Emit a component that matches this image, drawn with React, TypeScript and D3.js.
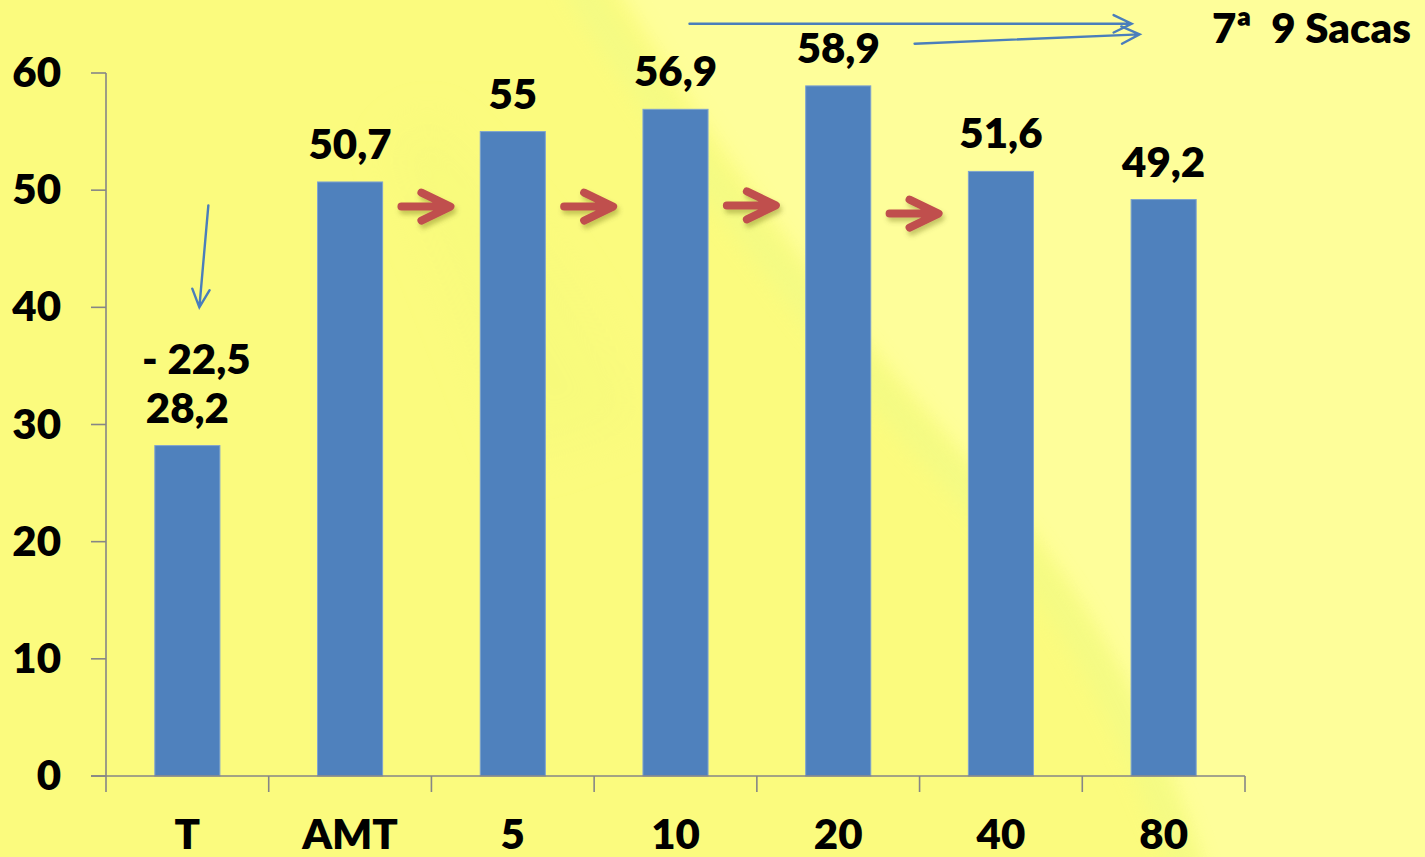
import React from "react";
import * as d3 from "d3";

// Yield per treatment
const categories = ["T", "AMT", "5", "10", "20", "40", "80"];
const values = [28.2, 50.7, 55, 56.9, 58.9, 51.6, 49.2];
const valueLabels = ["28,2", "50,7", "55", "56,9", "58,9", "51,6", "49,2"];
const yTicks = [0, 10, 20, 30, 40, 50, 60];

// Extra note above the control bar
const lossLabel = "- 22,5";
const noteText = "7ª  9 Sacas";

// Red trend arrows sit on the boundary after category index, at a value level
const trendArrowAfter = [1, 2, 3, 4];
const trendArrowLevel = [48.6, 48.6, 48.7, 48.0];

const W = 1425;
const H = 857;
const FONT = "Lato, 'Open Sans', sans-serif";
const WEIGHT = 800;

const x = d3.scaleBand<string>().domain(categories).range([106, 1245]).padding(0);
const y = d3.scaleLinear().domain([0, 60]).range([776, 73]);
const barW = x.bandwidth() * 0.4;
const center = (i: number) => (x(categories[0]) as number) + x.bandwidth() * (i + 0.5);
const boundary = (i: number) => (x(categories[0]) as number) + x.bandwidth() * (i + 1);

function openArrow(x1: number, y1: number, x2: number, y2: number, len: number, ang: number) {
  const a = Math.atan2(y2 - y1, x2 - x1);
  const p1 = [x2 - len * Math.cos(a - ang), y2 - len * Math.sin(a - ang)];
  const p2 = [x2 - len * Math.cos(a + ang), y2 - len * Math.sin(a + ang)];
  const p = d3.path();
  p.moveTo(x1, y1);
  p.lineTo(x2, y2);
  p.moveTo(p1[0], p1[1]);
  p.lineTo(x2, y2);
  p.lineTo(p2[0], p2[1]);
  return p.toString();
}

function fatArrow(cx: number, cy: number) {
  const p = d3.path();
  p.moveTo(cx - 25, cy);
  p.lineTo(cx + 20, cy);
  p.moveTo(cx - 5, cy - 14);
  p.lineTo(cx + 24, cy);
  p.lineTo(cx - 5, cy + 14);
  return p.toString();
}

export default function App() {
  React.useEffect(() => {
    document.body.style.margin = "0";
  }, []);

  // Blue callout arrows, in band/value units
  const topArrow1 = openArrow(center(3) + 14, y(64.2), center(6) - 32, y(64.2), 20, 0.45);
  const topArrow2 = openArrow(boundary(4) - 5, y(62.5), center(6) - 24, y(63.3), 20, 0.45);
  const downArrow = openArrow(center(0) + 21, y(48.7), center(0) + 12, y(40.0), 20, 0.45);

  return (
    <svg width={W} height={H} style={{ display: "block" }} fontFamily={FONT}>
      <defs>
        <filter id="soft" x="-20%" y="-20%" width="140%" height="140%">
          <feGaussianBlur stdDeviation="22" />
        </filter>
        <filter id="soft2" x="-20%" y="-20%" width="140%" height="140%">
          <feGaussianBlur stdDeviation="10" />
        </filter>
        <filter id="shadow" x="-30%" y="-50%" width="160%" height="200%">
          <feDropShadow dx="2" dy="4" stdDeviation="2.5" floodColor="#5a5a00" floodOpacity="0.35" />
        </filter>
      </defs>

      {/* background */}
      <rect x={0} y={0} width={W} height={H} fill="#fbfb7e" />
      <path
        d="M600,-40 C730,180 870,360 1020,520 C1110,640 1170,760 1210,900 L1500,900 L1500,-40 Z"
        fill="#fefe9a"
        filter="url(#soft2)"
      />
      <path
        d="M430,120 C510,200 590,300 640,420 L520,460 C470,330 430,220 390,150 Z"
        fill="#f4fa7a"
        opacity={0.5}
        filter="url(#soft)"
      />
      <path
        d="M575,-20 C710,190 855,370 1000,525 C1095,640 1150,760 1190,880"
        fill="none"
        stroke="#f1fb86"
        strokeWidth={30}
        opacity={0.7}
        filter="url(#soft2)"
      />

      {/* bars */}
      {categories.map((c, i) => (
        <rect
          key={c}
          x={center(i) - barW / 2}
          y={y(values[i])}
          width={barW}
          height={y(0) - y(values[i])}
          fill="#4f81bd"
          stroke="#7fa3cf"
          strokeWidth={1}
        />
      ))}

      {/* axes */}
      <g stroke="#868686" strokeWidth={1.6} fill="none">
        <line x1={106} y1={y(0)} x2={106} y2={y(60)} />
        {yTicks.map((t) => (
          <line key={t} x1={91} y1={y(t)} x2={106} y2={y(t)} />
        ))}
        <line x1={91} y1={y(0)} x2={1245} y2={y(0)} />
        {d3.range(categories.length + 1).map((i) => {
          const bx = (x(categories[0]) as number) + x.bandwidth() * i;
          return <line key={i} x1={bx} y1={y(0)} x2={bx} y2={y(0) + 16} />;
        })}
      </g>

      {/* y tick labels */}
      <g fontSize={42} fontWeight={WEIGHT} fill="#000" textAnchor="end">
        {yTicks.map((t) => (
          <text key={t} x={61} y={y(t) + 14}>
            {t}
          </text>
        ))}
      </g>

      {/* category labels */}
      <g fontSize={42} fontWeight={WEIGHT} fill="#000" textAnchor="middle">
        {categories.map((c, i) => (
          <text key={c} x={center(i)} y={849}>
            {c}
          </text>
        ))}
      </g>

      {/* value labels */}
      <g fontSize={42} fontWeight={WEIGHT} fill="#000" textAnchor="middle">
        {categories.map((c, i) => (
          <text key={c} x={center(i)} y={y(values[i]) - 23}>
            {valueLabels[i]}
          </text>
        ))}
        <text x={center(0) + 9} y={y(values[0]) - 72}>
          {lossLabel}
        </text>
      </g>

      {/* red trend arrows */}
      <g stroke="#c0504d" strokeWidth={8} fill="none" strokeLinecap="round" strokeLinejoin="round" filter="url(#shadow)">
        {trendArrowAfter.map((b, k) => (
          <path key={b} d={fatArrow(boundary(b) - 5, y(trendArrowLevel[k]))} />
        ))}
      </g>

      {/* blue callouts */}
      <g stroke="#4a7ebb" strokeWidth={2.4} fill="none" strokeLinecap="round">
        <path d={topArrow1} />
        <path d={topArrow2} />
        <path d={downArrow} />
      </g>

      <text x={1212} y={43} fontSize={42} fontWeight={WEIGHT} fill="#000" style={{ whiteSpace: "pre" }}>
        {noteText}
      </text>
    </svg>
  );
}
